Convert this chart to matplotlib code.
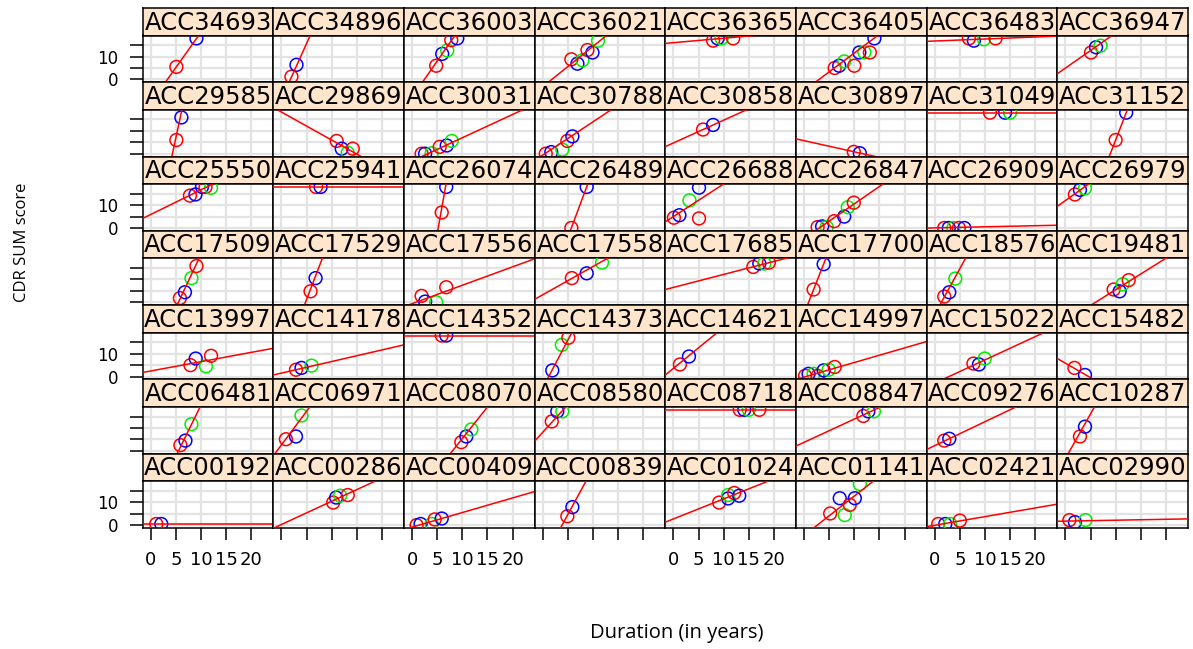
import numpy as np
import matplotlib
matplotlib.use("Agg")
import matplotlib.pyplot as plt

# ---------------- data (rows top to bottom, as laid out) ----------------
panel_ids = [
    "ACC34693", "ACC34896", "ACC36003", "ACC36021", "ACC36365", "ACC36405", "ACC36483", "ACC36947",
    "ACC29585", "ACC29869", "ACC30031", "ACC30788", "ACC30858", "ACC30897", "ACC31049", "ACC31152",
    "ACC25550", "ACC25941", "ACC26074", "ACC26489", "ACC26688", "ACC26847", "ACC26909", "ACC26979",
    "ACC17509", "ACC17529", "ACC17556", "ACC17558", "ACC17685", "ACC17700", "ACC18576", "ACC19481",
    "ACC13997", "ACC14178", "ACC14352", "ACC14373", "ACC14621", "ACC14997", "ACC15022", "ACC15482",
    "ACC06481", "ACC06971", "ACC08070", "ACC08580", "ACC08718", "ACC08847", "ACC09276", "ACC10287",
    "ACC00192", "ACC00286", "ACC00409", "ACC00839", "ACC01024", "ACC01141", "ACC02421", "ACC02990",
]

duration = [
    [5.1, 9.1], [2.0, 3.0], [4.8, 6.0, 7.0, 7.8, 9.0], [5.7, 6.9, 7.9, 8.9, 9.9, 11.0],
    [7.9, 8.8, 9.6, 11.9], [6.1, 7.0, 8.0, 10.0, 11.0, 12.0, 13.1, 14.0], [6.8, 7.8, 9.8, 12.1], [5.1, 6.1, 7.0],
    [5.1, 6.1], [11.0, 12.0, 13.2, 14.2], [1.9, 2.6, 3.9, 5.5, 6.9, 7.9], [0.6, 1.7, 3.9, 4.9, 5.9],
    [5.9, 7.9], [9.9, 11.1], [11.0, 14.0, 15.0], [10.0, 12.1],
    [7.8, 8.9, 10.2, 10.9, 12.0], [6.9, 7.8], [5.9, 6.8], [5.7, 8.75],
    [0.1, 1.2, 3.2, 5.1, 5.1], [2.7, 3.6, 4.5, 6.0, 8.0, 8.7, 9.9], [1.9, 2.8, 3.7, 4.8, 5.9], [1.9, 2.9, 3.9],
    [5.8, 6.8, 8.1, 9.1], [5.8, 6.8], [1.9, 2.6, 4.8, 6.8], [5.8, 8.75, 11.8],
    [15.9, 17.1, 18.1, 19.0], [1.9, 3.9], [1.9, 2.9, 4.1], [9.6, 10.8, 11.4, 12.6],
    [7.9, 8.95, 11.0, 12.0], [2.9, 4.0, 6.0], [5.9, 6.8], [1.9, 3.8, 5.1],
    [1.3, 3.1], [0.2, 0.9, 1.9, 2.7, 3.9, 4.9, 6.1], [7.7, 8.8, 9.95], [1.8, 3.9],
    [5.9, 6.9, 8.1], [0.9, 2.9, 4.0], [9.8, 10.8, 11.8], [1.8, 2.9, 3.9],
    [13.2, 14.1, 15.0, 17.1], [11.8, 12.8, 13.9], [1.9, 2.9], [2.9, 3.9],
    [1.1, 2.1], [10.3, 10.9, 11.7, 13.2], [0.9, 1.7, 3.9, 4.5, 5.9], [4.9, 5.9],
    [9.1, 10.9, 10.9, 12.1, 13.1], [5.2, 7.1, 8.1, 9.1, 10.1, 11.1], [0.7, 2.1, 3.1, 5.0], [0.8, 1.9, 4.0],
]

cdr_sum = [
    [5.5, 18.0], [1.2, 6.4], [6.0, 11.2, 12.7, 17.2, 18.0], [8.8, 6.9, 8.4, 12.9, 11.8, 17.0],
    [17.0, 18.0, 18.0, 18.0], [5.0, 6.0, 7.9, 6.0, 11.8, 11.9, 11.8, 18.0], [18.0, 17.0, 17.6, 18.0], [11.8, 14.1, 14.8],
    [6.0, 15.9], [5.6, 2.2, 0.4, 2.2], [0.0, 0.0, 0.2, 3.0, 3.6, 5.6], [0.0, 0.7, 1.8, 5.6, 7.6],
    [10.6, 12.6], [0.8, 0.2], [18.0, 18.0, 18.0], [6.0, 18.0],
    [14.2, 14.7, 18.0, 18.0, 17.6], [18.0, 18.0], [6.8, 18.0], [0.0, 18.0],
    [4.5, 5.6, 12.1, 17.7, 4.2], [0.4, 0.7, 0.4, 3.0, 5.0, 9.1, 11.1], [0.0, 0.0, 0.0, 0.0, 0.0], [14.7, 16.7, 17.4],
    [1.8, 4.4, 10.6, 15.9], [4.8, 10.6], [2.8, 0.3, 0.0, 6.6], [10.6, 12.7, 17.4],
    [15.5, 17.0, 17.0, 17.4], [5.6, 16.7], [2.5, 4.4, 10.4], [5.6, 4.8, 7.9, 9.7],
    [5.0, 7.9, 4.5, 9.1], [3.0, 3.8, 4.8], [18.0, 18.0], [2.7, 13.9, 17.0],
    [5.3, 8.8], [0.3, 1.2, 1.2, 0.3, 2.7, 3.0, 4.2], [5.7, 5.3, 7.9], [3.8, 0.7],
    [2.5, 4.5, 11.7], [5.1, 6.3, 15.5], [3.8, 6.3, 9.4], [12.9, 17.3, 17.3],
    [18.0, 18.0, 18.0, 18.0], [15.3, 17.3, 17.3], [4.5, 5.3], [6.3, 10.6],
    [0.5, 0.5], [9.9, 12.1, 12.9, 13.2], [0.0, 0.5, 0.5, 2.5, 2.9], [3.9, 7.9],
    [9.9, 11.7, 13.2, 14.1, 12.9], [5.1, 11.8, 4.4, 8.9, 11.8, 18.0], [0.5, 0.5, 0.5, 2.0], [2.2, 1.3, 2.2],
]

visit_group = [
    "rb", "rb", "rbgrb", "rbgrbg", "rbgr", "rbgrbgrb", "rbgr", "rbg",
    "rb", "rbgr", "rbgrbg", "rbgrb", "rb", "rb", "rbg", "rb",
    "rbbrg", "rb", "rb", "rb", "rbgbr", "rbgrbgr", "rbgrb", "rbg",
    "rbgr", "rb", "rbgr", "rbg", "rbgr", "rb", "rbg", "rbgr",
    "rbgr", "rbg", "rb", "bgr", "rb", "rbgrbgr", "rbg", "rb",
    "rbg", "rbg", "rbg", "rbg", "rbgr", "rbg", "rb", "rb",
    "rb", "rbgr", "rbgrb", "rb", "rbgrb", "rbgrbg", "rbgr", "rbg",
]

# fitted line per panel: CDR = intercept + slope * duration
fit_intercept = [
    -10.3, -8.74, -7.84, -3.21, 16.11, -4.94, 16.84, 4.96,
    -44.35, 18.28, -3.2, -0.62, 4.7, 5.72, 18.0, -51.0,
    5.93, 18.0, -64.5, -33.6, 4.99, -4.6, 0.04, 12.01,
    -25.9, -27.64, -0.61, 3.28, 6.51, -5.07, -5.36, -8.3,
    2.45, 1.51, 18.0, -4.99, 3.59, -0.24, -2.89, 5.87,
    -24.83, 2.58, -22.31, 8.13, 18.0, 3.73, 2.28, -3.42,
    0.5, 0.27, -0.88, -15.56, 2.71, -4.55, -0.07, 1.76,
]
fit_slope = [
    3.1, 4.89, 3.18, 1.77, 0.195, 1.65, 0.088, 1.54,
    10.26, -1.23, 1.02, 1.46, 1.0, -0.49, 0.0, 5.7,
    1.08, 0.0, 12.4, 5.9, 1.43, 1.52, 0.048, 1.57,
    4.7, 5.76, 0.807, 1.24, 0.57, 5.6, 4.02, 1.38,
    0.408, 0.508, 0.0, 4.19, 1.8, 0.64, 1.02, -1.27,
    4.49, 2.95, 2.77, 2.42, 0.0, 1.02, 1.05, 3.92,
    0.0, 1.02, 0.64, 4.05, 0.88, 1.73, 0.38, 0.04,
]

x_ticks = [0, 5, 10, 15, 20]
y_ticks = [0, 5, 10, 15]
y_ticklabels = ["0", "", "10", ""]

group_colors = {"r": "#FF0000", "b": "#0000FF", "g": "#00EE00"}

plt.rcParams["font.family"] = ["DejaVu Sans"]

# ---------------- layout ----------------
W, H = 1193, 649
fig = plt.figure(figsize=(W / 100, H / 100), dpi=100)
fig.patch.set_facecolor("white")

L, R, T, B = 142.7, 1188.0, 8.0, 528.0
ncol, nrow = 8, 7
cw = (R - L) / ncol
rh = (B - T) / nrow
sh = 27.5
XLIM = (-1.6, 24.4)
YLIM = (-1.26, 19.26)


def fig_rect(x0, y0, w, h):
    return [x0 / W, 1 - (y0 + h) / H, w / W, h / H]


for idx, name in enumerate(panel_ids):
    r, c = divmod(idx, ncol)
    x0 = L + c * cw
    y0 = T + r * rh
    # strip
    sax = fig.add_axes(fig_rect(x0, y0, cw, sh))
    sax.set_facecolor("#FFE5CC")
    sax.set_xticks([])
    sax.set_yticks([])
    for s in sax.spines.values():
        s.set_linewidth(1.1)
        s.set_color("black")
    sax.text(0.5, 0.47, name, ha="center", va="center", fontsize=17.5,
             color="black", transform=sax.transAxes)
    # panel
    ax = fig.add_axes(fig_rect(x0, y0 + sh, cw, rh - sh))
    ax.set_xlim(*XLIM)
    ax.set_ylim(*YLIM)
    ax.set_xticks(x_ticks)
    ax.set_yticks(y_ticks)
    ax.grid(True, color="#E3E3E3", linewidth=1.6)
    ax.set_axisbelow(True)
    for s in ax.spines.values():
        s.set_linewidth(1.1)
        s.set_color("black")
    is_bottom = (r == nrow - 1)
    is_left = (c == 0)
    ax.tick_params(axis="x", bottom=is_bottom, top=False,
                   labelbottom=is_bottom and c % 2 == 0,
                   length=8.5, width=1.1, pad=8, labelsize=13)
    ax.tick_params(axis="y", left=is_left, right=False,
                   labelleft=is_left and r % 2 == 0,
                   length=9.5, width=1.1, pad=8, labelsize=12)
    ax.set_xticklabels([str(t) for t in x_ticks])
    ax.set_yticklabels(y_ticklabels)

    xs = np.array(duration[idx])
    ys = np.array(cdr_sum[idx])
    cols = [group_colors[g] for g in visit_group[idx]]
    ax.scatter(xs, ys, s=85, facecolors="none", edgecolors=cols,
               linewidths=1.1, zorder=3)
    lx = np.array(XLIM)
    ax.plot(lx, fit_intercept[idx] + fit_slope[idx] * lx, color="#FF0000",
            linewidth=1.1, zorder=4)

fig.text(22 / W, 1 - 242 / H, "CDR SUM score", rotation=90, ha="center",
         va="center", fontsize=12, family=["Open Sans", "DejaVu Sans"])
fig.text(677 / W, 1 - 633 / H, "Duration (in years)", ha="center",
         va="center", fontsize=14.5, family=["Open Sans", "DejaVu Sans"])

fig.savefig("out.png", dpi=100, facecolor="white")
